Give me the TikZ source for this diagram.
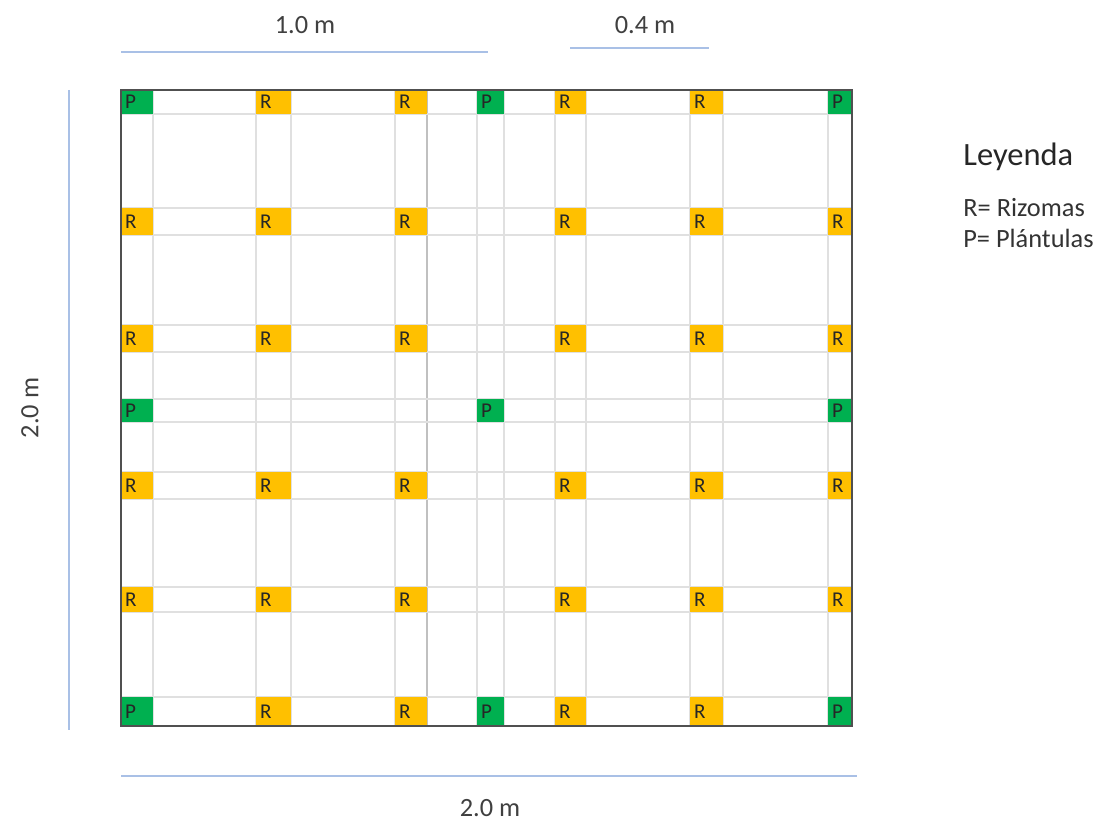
\documentclass[tikz,border=0pt]{standalone}
\usepackage{fontspec}
\setmainfont{Carlito}
\usetikzlibrary{positioning}
\definecolor{plantgreen}{HTML}{00B050}
\definecolor{rhizgold}{HTML}{FFC000}
\definecolor{gridgray}{HTML}{E0E0E0}
\definecolor{griddark}{HTML}{C0C0C0}
\definecolor{dimblue}{HTML}{A9C0E6}
\definecolor{framegray}{HTML}{505050}

\begin{document}
\begin{tikzpicture}[x=0.02cm, y=-0.02cm,
    cell/.style={inner xsep=2.4pt, inner ysep=0pt, align=left,
                 font=\fontsize{12}{12}\selectfont, text=black!85},
    pcell/.style={cell, fill=plantgreen},
    rcell/.style={cell, fill=rhizgold},
    dimline/.style={draw=dimblue, line width=0.8pt},
    dimlabel/.style={font=\fontsize{15}{16}\selectfont, text=black!75},
    legendtext/.style={anchor=west, inner sep=0pt, font=\fontsize{15}{16}\selectfont, text=black!80}]
    \useasboundingbox (0,0) rectangle (1106,821);

    %grid lines
    \foreach \x in {153,256,291,395,477,504,555,586,690,723,828}
        \draw[gridgray, line width=0.7pt] (\x,90) -- (\x,726);
    \draw[griddark, line width=0.7pt] (427,90) -- (427,726);
    \foreach \y in {114,208,235,325,352,399,472,499,587,612,697}
        \draw[gridgray, line width=0.7pt] (121,\y) -- (852,\y);
    \draw[gridgray, line width=1.2pt] (121,422) -- (852,422);

    %plantulas
    \foreach \yt/\yb/\r in {90/114/1, 399/422/4, 697/726/7}
        \foreach \xl/\xr/\c in {121/153/1, 477/504/4, 828/852/7}
            \node[pcell, text width={(\xr-\xl)*0.02cm-4.8pt},
                  minimum height={(\yb-\yt)*0.02cm}]
                (p\r\c) at ({(\xl+\xr)/2},{(\yt+\yb)/2}) {P};

    %rizomas
    \foreach \yt/\yb/\r in {90/114/1, 697/726/7}
        \foreach \xl/\xr/\c in {256/291/2, 395/427/3, 555/586/5, 690/723/6}
            \node[rcell, text width={(\xr-\xl)*0.02cm-4.8pt},
                  minimum height={(\yb-\yt)*0.02cm}]
                (r\r\c) at ({(\xl+\xr)/2},{(\yt+\yb)/2}) {R};
    \foreach \yt/\yb/\r in {208/235/2, 325/352/3, 472/499/5, 587/612/6}
        \foreach \xl/\xr/\c in {121/153/1, 256/291/2, 395/427/3, 555/586/5, 690/723/6, 828/852/7}
            \node[rcell, text width={(\xr-\xl)*0.02cm-4.8pt},
                  minimum height={(\yb-\yt)*0.02cm}]
                (r\r\c) at ({(\xl+\xr)/2},{(\yt+\yb)/2}) {R};

    %frame
    \draw[framegray, line width=1pt] (121,90) rectangle (852,726);
    \draw[framegray, line width=1.6pt] (852,90) -- (852,726) -- (121,726);

    %dimensions
    \draw[dimline] (121,52) -- (488,52);
    \node[dimlabel] (top1) at (305,25) {1.0 m};
    \draw[dimline] (570,48) -- (709,48);
    \node[dimlabel] (top2) at (645,25) {0.4 m};
    \draw[dimline] (69,90) -- (69,730);
    \node[dimlabel, rotate=90] (side) at (30,408) {2.0 m};
    \draw[dimline] (121,776) -- (857,776);
    \node[dimlabel] (bottom) at (490,808) {2.0 m};

    %legend
    \node[legendtext, font=\fontsize{18.5}{20}\selectfont, text=black!85] (leyenda) at (963,157) {Leyenda};
    \node[legendtext] (rlegend) at (963,208) {R= Rizomas};
    \node[legendtext] (plegend) at (963,238) {P= Plántulas};
\end{tikzpicture}
\end{document}
